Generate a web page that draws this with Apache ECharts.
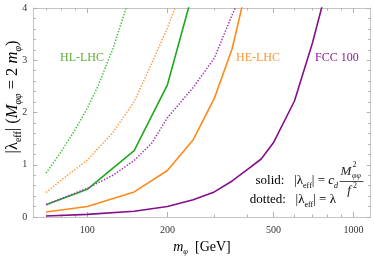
<!DOCTYPE html>
<html>
<head>
<meta charset="utf-8">
<script src="https://cdn.jsdelivr.net/npm/echarts@6/dist/echarts.min.js"></script>
<style>html,body{margin:0;padding:0;background:#fff}#c{width:374px;height:259px}</style>
</head>
<body>
<div id="c"></div>
<script>
// ---- data (m_phi in GeV, |lambda_eff|) ----
const hlSolidM = [70, 100, 150, 200, 250];
const hlSolid = [0.235, 0.53, 1.27, 2.53, 4.33];
const hlDottedM = [70, 80, 90, 100, 110, 125, 150];
const hlDotted = [0.84, 1.26, 1.67, 2.08, 2.52, 3.23, 4.47];
const heSolidM = [70, 100, 150, 200, 250, 300, 350, 400];
const heSolid = [0.096, 0.2, 0.48, 0.89, 1.48, 2.27, 3.22, 4.48];
const heDottedM = [70, 80, 100, 125, 150, 175, 200, 225];
const heDotted = [0.47, 0.71, 1.09, 1.62, 2.21, 2.95, 3.62, 4.3];
const fccSolidM = [70, 100, 150, 200, 250, 300, 350, 400, 450, 500, 600, 700, 800];
const fccSolid = [0.02, 0.05, 0.11, 0.2, 0.33, 0.48, 0.69, 0.91, 1.11, 1.42, 2.22, 3.32, 4.45];
const fccDottedM = [70, 100, 125, 150, 175, 200, 250, 300, 350, 375];
const fccDotted = [0.235, 0.55, 0.8, 1.08, 1.42, 1.9, 2.48, 3.04, 3.87, 4.2];
const xMajorTicks = [100, 200, 500, 1000];
const xMinorTicks = [70, 80, 90, 300, 400, 600, 700, 800, 900];

const pairs = (m, v) => m.map((x, i) => [x, v[i]]);
const FONT = '"Liberation Serif", "DejaVu Serif", serif';
const AX = '#c4c4c4';
const TK = '#b0b0b0';
const xMin = 62.7, xMax = 1160;

const chart = echarts.init(document.getElementById('c'), null, {renderer: 'canvas'});

function xAx(pos, ticks, len, labels) {
  return {
    type: 'log', logBase: 10, min: xMin, max: xMax, position: pos,
    axisLine: {show: true, onZero: false, lineStyle: {color: AX, width: 1}},
    axisTick: {show: true, inside: true, length: len, customValues: ticks, lineStyle: {color: TK}},
    axisLabel: labels ? {show: true, customValues: ticks, fontFamily: FONT, fontSize: 10, color: '#333', margin: 8, formatter: v => String(Math.round(v))} : {show: false},
    splitLine: {show: false}, minorTick: {show: false}
  };
}
function yAx(pos, labels) {
  return {
    type: 'value', min: 0, max: 4, interval: 1, position: pos,
    axisLine: {show: true, onZero: false, lineStyle: {color: AX, width: 1}},
    axisTick: {show: true, inside: true, length: 4, lineStyle: {color: TK}},
    minorTick: {show: true, splitNumber: 5, length: 2.5, lineStyle: {color: TK}},
    axisLabel: labels ? {show: true, fontFamily: FONT, fontSize: 10, color: '#333', margin: 6} : {show: false},
    splitLine: {show: false}
  };
}

function line(m, v, color, dotted, width) {
  return {
    type: 'line', xAxisIndex: 0, yAxisIndex: 0, data: pairs(m, v), symbol: 'none', smooth: false,
    clip: true, animation: false,
    lineStyle: {color: color, width: width, type: dotted ? [1.4, 1.6] : 'solid', cap: 'butt'}
  };
}

const rich = {
  n: {fontFamily: FONT, fontSize: 13, lineHeight: 17, color: '#222'},
  i: {fontFamily: FONT, fontSize: 13, lineHeight: 17, fontStyle: 'italic', color: '#222'},
  s: {fontFamily: FONT, fontSize: 8, lineHeight: 8, verticalAlign: 'bottom', color: '#222'},
  si: {fontFamily: FONT, fontSize: 8, lineHeight: 8, verticalAlign: 'bottom', fontStyle: 'italic', color: '#222'}
};
const richY = {
  n: {fontFamily: FONT, fontSize: 16.5, lineHeight: 21, color: '#222'},
  i: {fontFamily: FONT, fontSize: 16.5, lineHeight: 21, fontStyle: 'italic', color: '#222'},
  s: {fontFamily: FONT, fontSize: 10, lineHeight: 10, verticalAlign: 'bottom', color: '#222'},
  si: {fontFamily: FONT, fontSize: 10, lineHeight: 10, verticalAlign: 'bottom', fontStyle: 'italic', color: '#222'}
};

chart.setOption({
  animation: false,
  grid: {left: 33.3, right: 3.3, top: 8, bottom: 42},
  xAxis: [
    xAx('bottom', xMajorTicks, 5, true),
    xAx('bottom', xMinorTicks, 2.5, false),
    xAx('top', xMajorTicks, 5, false),
    xAx('top', xMinorTicks, 2.5, false)
  ],
  yAxis: [yAx('left', true), yAx('right', false)],
  series: [
    line(hlDottedM, hlDotted, '#3cbf3c', true, 1.5),
    line(heDottedM, heDotted, '#ff9a3c', true, 1.5),
    line(heSolidM, heSolid, '#ff8a1a', false, 1.6),
    line(fccSolidM, fccSolid, '#850f8a', false, 1.6),
    line(hlSolidM, hlSolid, '#1fa81f', false, 1.6),
    line(fccDottedM, fccDotted, '#a033b0', true, 1.5)
  ],
  graphic: [
    {type: 'text', left: 60, top: 52, style: {text: 'HL-LHC', fontFamily: FONT, fontSize: 12, fill: '#5fae35'}},
    {type: 'text', left: 236, top: 52, style: {text: 'HE-LHC', fontFamily: FONT, fontSize: 12, fill: '#ff962e'}},
    {type: 'text', left: 315, top: 52, style: {text: 'FCC 100', fontFamily: FONT, fontSize: 12, fill: '#8a1a8e'}},
    // y-axis title
    {type: 'text', x: 13, y: 97, rotation: Math.PI / 2,
      style: {text: '{n||λ}{s|eff}{n|| (}{i|M}{si|φφ}{n| = 2 }{i|m}{si|φ}{n|)}', rich: richY, align: 'center', verticalAlign: 'middle'}},
    // x-axis title
    {type: 'text', x: 202, y: 247,
      style: {text: '{i|m}{si|φ}{n|  [GeV]}', rich: {
        n: {fontFamily: FONT, fontSize: 14, lineHeight: 18, color: '#222'},
        i: {fontFamily: FONT, fontSize: 14, lineHeight: 18, fontStyle: 'italic', color: '#222'},
        si: {fontFamily: FONT, fontSize: 8.5, lineHeight: 8, verticalAlign: 'bottom', fontStyle: 'italic', color: '#222'}
      }, align: 'center', verticalAlign: 'middle'}},
    // formula: solid
    {type: 'text', x: 338, y: 181,
      style: {text: '{n|solid:   |λ}{s|eff}{n|| = }{i|c}{si|d}', rich: rich, align: 'right', verticalAlign: 'middle'}},
    {type: 'text', x: 346, y: 172, style: {text: 'M', fontFamily: FONT, fontSize: 13, fontStyle: 'italic', fill: '#222', align: 'center', verticalAlign: 'middle'}},
    {type: 'text', x: 352.5, y: 165, style: {text: '2', fontFamily: FONT, fontSize: 8, fill: '#222', align: 'left', verticalAlign: 'middle'}},
    {type: 'text', x: 352, y: 175.5, style: {text: 'φφ', fontFamily: FONT, fontSize: 8, fontStyle: 'italic', fill: '#222', align: 'left', verticalAlign: 'middle'}},
    {type: 'line', shape: {x1: 339.5, y1: 181.5, x2: 363.5, y2: 181.5}, style: {stroke: '#222', lineWidth: 0.8}},
    {type: 'text', x: 349, y: 191, style: {text: 'f', fontFamily: FONT, fontSize: 13, fontStyle: 'italic', fill: '#222', align: 'center', verticalAlign: 'middle'}},
    {type: 'text', x: 353, y: 186, style: {text: '2', fontFamily: FONT, fontSize: 8, fill: '#222', align: 'left', verticalAlign: 'middle'}},
    // formula: dotted
    {type: 'text', x: 336, y: 200,
      style: {text: '{n|dotted:   |λ}{s|eff}{n|| = λ}', rich: rich, align: 'right', verticalAlign: 'middle'}}
  ]
});
</script>
</body>
</html>
